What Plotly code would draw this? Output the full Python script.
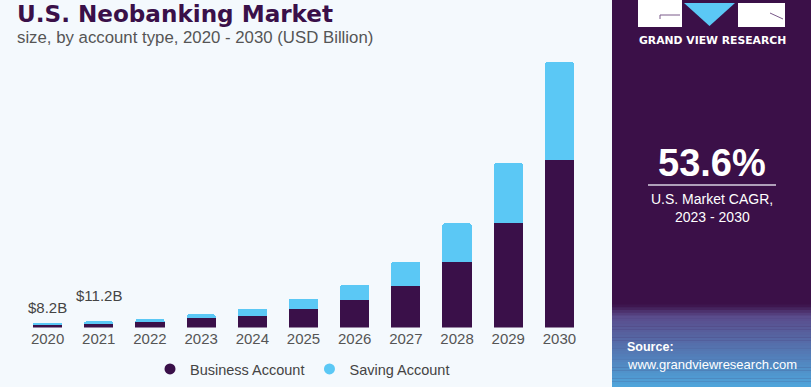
import plotly.graph_objects as go

years = ["2020", "2021", "2022", "2023", "2024", "2025", "2026", "2027", "2028", "2029", "2030"]
business = [5.4, 6.9, 10.5, 16.7, 20.4, 33.1, 50.0, 75.5, 118.5, 190.5, 304.5]
saving = [2.8, 4.3, 4.9, 7.3, 13.8, 18.7, 27.3, 44.2, 70.9, 108.0, 177.6]
label_years = ["2020", "2021"]
label_texts = ["$8.2B", "$11.2B"]
label_shift = [5, 15]

DARK = "#3a1049"
BLUE = "#5bc8f5"
BG = "#f4f9fd"
W, H = 811, 387


def px(x):
    return x / W


def py(y):
    return 1 - y / H


fig = go.Figure()
fig.add_trace(go.Bar(x=years, y=business, name="Business Account", marker=dict(color=DARK, line=dict(width=0)),
                     showlegend=False))
fig.add_trace(go.Bar(x=years, y=saving, name="Saving Account", marker=dict(color=BLUE, line=dict(width=0)),
                     showlegend=False))
# legend entries with circle markers, on a hidden axis pair so they don't draw
fig.add_trace(go.Scatter(x=[0], y=[0], mode="markers", name="Business Account", xaxis="x2", yaxis="y2",
                         marker=dict(color=DARK, size=11, symbol="circle")))
fig.add_trace(go.Scatter(x=[0], y=[0], mode="markers", name="Saving Account", xaxis="x2", yaxis="y2",
                         marker=dict(color=BLUE, size=11, symbol="circle")))

annotations = []
for yr, txt, sh in zip(label_years, label_texts, label_shift):
    i = years.index(yr)
    annotations.append(dict(x=i, y=business[i] + saving[i], xref="x", yref="y", text=txt, showarrow=False,
                            yanchor="bottom", yshift=sh, font=dict(size=15, color="#444", family="Liberation Sans")))

shapes = []

# Right panel
PX0 = 612
panel_color = "#3b1048"
shapes.append(dict(type="rect", xref="paper", yref="paper", x0=px(PX0), x1=1.0, y0=0, y1=1,
                   fillcolor=panel_color, line=dict(width=0), layer="below"))
# gradient at bottom
g_top, g_bot = 305, 387
n = 30
c0 = (0x3b, 0x10, 0x48)
c_mid = (0x5a, 0x4c, 0x8c)
c1 = (0x4f, 0xa6, 0xdc)
for k in range(n):
    y0 = g_top + (g_bot - g_top) * k / n
    y1 = g_top + (g_bot - g_top) * (k + 1) / n
    t = (k + 0.5) / n
    if t < 0.15:
        u = t / 0.15
        c = tuple(int(c0[j] + (c_mid[j] - c0[j]) * u) for j in range(3))
    else:
        u = (t - 0.15) / 0.85
        c = tuple(int(c_mid[j] + (c1[j] - c_mid[j]) * u) for j in range(3))
    shapes.append(dict(type="rect", xref="paper", yref="paper", x0=px(PX0), x1=1.0, y0=py(y1), y1=py(y0) + 0.001,
                       fillcolor="rgb(%d,%d,%d)" % c, line=dict(width=0), layer="below"))

# logo boxes
shapes.append(dict(type="rect", xref="paper", yref="paper", x0=px(638), x1=px(682), y0=py(27), y1=py(0),
                   fillcolor="white", line=dict(width=0)))
shapes.append(dict(type="path", xref="paper", yref="paper",
                   path="M %f,%f L %f,%f L %f,%f Z" % (px(684), py(3), px(735), py(3), px(709.5), py(26)),
                   fillcolor=BLUE, line=dict(width=0)))
shapes.append(dict(type="rect", xref="paper", yref="paper", x0=px(738), x1=px(785), y0=py(27), y1=py(3),
                   fillcolor="white", line=dict(width=0)))
shapes.append(dict(type="line", xref="paper", yref="paper", x0=px(660), x1=px(680), y0=py(15), y1=py(15),
                   line=dict(color="#7a5a8a", width=1)))
shapes.append(dict(type="line", xref="paper", yref="paper", x0=px(660), x1=px(660), y0=py(15), y1=py(19),
                   line=dict(color="#7a5a8a", width=1)))
shapes.append(dict(type="line", xref="paper", yref="paper", x0=px(770), x1=px(783), y0=py(13), y1=py(19),
                   line=dict(color="#7a5a8a", width=1)))
# CAGR separator line
shapes.append(dict(type="line", xref="paper", yref="paper", x0=px(648), x1=px(776), y0=py(185), y1=py(185),
                   line=dict(color="#d8d0e0", width=1.5)))

annotations += [
    dict(x=px(15), y=py(14), xref="paper", yref="paper", xanchor="left", yanchor="middle",
         text="<b>U.S. Neobanking Market</b>", showarrow=False,
         font=dict(size=23.1, color=DARK, family="DejaVu Sans")),
    dict(x=px(15), y=py(38), xref="paper", yref="paper", xanchor="left", yanchor="middle",
         text="size, by account type, 2020 - 2030 (USD Billion)", showarrow=False,
         font=dict(size=16.8, color="#555555", family="Liberation Sans")),
    dict(x=px(712), y=py(40), xref="paper", yref="paper", xanchor="center", yanchor="middle",
         text="<b>GRAND VIEW RESEARCH</b>", showarrow=False,
         font=dict(size=10.8, color="white", family="DejaVu Sans")),
    dict(x=px(712), y=py(163), xref="paper", yref="paper", xanchor="center", yanchor="middle",
         text="<b>53.6%</b>", showarrow=False,
         font=dict(size=38, color="white", family="Liberation Sans")),
    dict(x=px(712), y=py(199), xref="paper", yref="paper", xanchor="center", yanchor="middle",
         text="U.S. Market CAGR,", showarrow=False,
         font=dict(size=14, color="white", family="Liberation Sans")),
    dict(x=px(712), y=py(217), xref="paper", yref="paper", xanchor="center", yanchor="middle",
         text="2023 - 2030", showarrow=False,
         font=dict(size=14, color="white", family="Liberation Sans")),
    dict(x=px(625), y=py(347), xref="paper", yref="paper", xanchor="left", yanchor="middle",
         text="<b>Source:</b>", showarrow=False,
         font=dict(size=12.5, color="white", family="Liberation Sans")),
    dict(x=px(625), y=py(364), xref="paper", yref="paper", xanchor="left", yanchor="middle",
         text="www.grandviewresearch.com", showarrow=False,
         font=dict(size=13, color="white", family="Liberation Sans")),
]

fig.update_layout(
    width=W, height=H,
    autosize=False,
    barmode="stack",
    bargap=0.43,
    barcornerradius=2,
    paper_bgcolor=BG,
    plot_bgcolor="rgba(0,0,0,0)",
    margin=dict(l=0, r=0, t=0, b=0, pad=0),
    xaxis=dict(type="category", range=[-0.5, 10.5], domain=[px(22), px(585)], showgrid=False,
               showline=False, zeroline=False, ticks="", automargin=False, categoryorder="array",
               categoryarray=years,
               tickfont=dict(size=15, color="#555555", family="Liberation Sans")),
    yaxis=dict(range=[0, 500], domain=[py(327.5), py(52.4)], visible=False, showgrid=False, zeroline=False,
               automargin=False),
    xaxis2=dict(range=[1, 2], visible=False, domain=[0, 0.01], anchor="y2"),
    yaxis2=dict(range=[1, 2], visible=False, domain=[0, 0.01], anchor="x2"),
    legend=dict(orientation="h", x=px(150), y=py(369), xanchor="left", traceorder="normal",
                yanchor="middle", bgcolor="rgba(0,0,0,0)",
                font=dict(size=14.5, color="#444444", family="Liberation Sans"),
                itemwidth=30, tracegroupgap=0),
    shapes=shapes,
    annotations=annotations,
    showlegend=True,
    hovermode=False,
)

fig.write_html("out.html", config={"displayModeBar": False},
               post_script="document.body.style.margin='0';document.body.style.padding='0';")
